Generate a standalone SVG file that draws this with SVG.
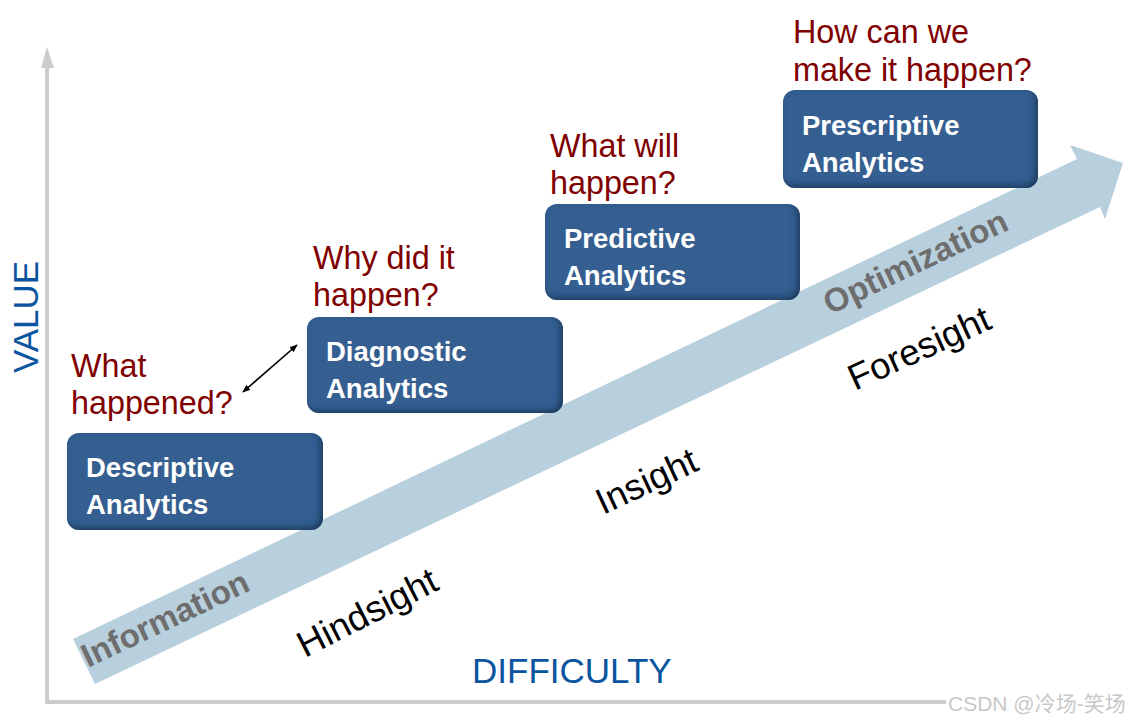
<svg xmlns="http://www.w3.org/2000/svg" width="1129" height="723" viewBox="0 0 1129 723">
  <defs>
    <style>
      .axis { stroke: #CCCCCC; stroke-width: 4; fill: none; }
      .box { fill: #365F91; }
      .boxtext { font-family: "Liberation Sans", Arial, sans-serif; font-weight: bold; font-size: 27.5px; fill: #FFFFFF; }
      .question { font-family: "Liberation Sans", Arial, sans-serif; font-size: 32.3px; fill: #800000; }
      .axislabel { font-family: "Liberation Sans", Arial, sans-serif; font-size: 35px; fill: #0B55A0; }
      .stage { font-family: "Liberation Sans", Arial, sans-serif; font-size: 36.5px; fill: #000000; }
      .band { font-family: "Liberation Sans", Arial, sans-serif; font-weight: bold; font-size: 33px; fill: #6E6E6E; }
      .conn { stroke: #000000; stroke-width: 1.6; fill: none; }
    </style>
    <filter id="bevel" x="-5%" y="-5%" width="115%" height="120%">
      <feGaussianBlur in="SourceAlpha" stdDeviation="3" result="blur"/>
      <feOffset in="blur" dx="-3" dy="-3" result="off"/>
      <feComposite in="SourceAlpha" in2="off" operator="out" result="inner"/>
      <feFlood flood-color="#142A48" flood-opacity="0.8"/>
      <feComposite in2="inner" operator="in" result="shade"/>
      <feMerge>
        <feMergeNode in="SourceGraphic"/>
        <feMergeNode in="shade"/>
      </feMerge>
    </filter>
    <marker id="ah" viewBox="0 0 10 10" refX="9" refY="5" markerWidth="8" markerHeight="8" orient="auto-start-reverse" markerUnits="userSpaceOnUse">
      <path d="M0,1 L10,5 L0,9 Z" fill="#000000"/>
    </marker>
  </defs>

  <rect width="1129" height="723" fill="#FFFFFF"/>

  <g id="axes">
    <line class="axis" x1="47" y1="66" x2="47" y2="702"/>
    <polygon points="47,47 41,68 54,68" fill="#CCCCCC"/>
    <line class="axis" x1="45" y1="702" x2="946" y2="702"/>
    <text class="axislabel" transform="translate(38,373) rotate(-90)">VALUE</text>
    <text class="axislabel" x="472" y="683">DIFFICULTY</text>
  </g>

  <g id="progress-arrow">
    <polygon points="73,639 1077,159 1070,145 1123,163 1105,219 1100,207 95,684" fill="#B8CFDD"/>
    <text class="band" transform="translate(88,668) rotate(-25.5)">Information</text>
    <text class="band" transform="translate(830,315) rotate(-25.5)">Optimization</text>
  </g>

  <g id="stage-labels">
    <text class="stage" transform="translate(305,658) rotate(-27)">Hindsight</text>
    <text class="stage" transform="translate(603,515) rotate(-25)">Insight</text>
    <text class="stage" transform="translate(855,391) rotate(-24.5)">Foresight</text>
  </g>

  <g id="descriptive">
    <rect class="box" x="67" y="433" width="256" height="97" rx="12" filter="url(#bevel)"/>
    <text class="boxtext" x="86" y="477">Descriptive</text>
    <text class="boxtext" x="86" y="514">Analytics</text>
    <text class="question" x="71" y="377">What</text>
    <text class="question" x="71" y="414">happened?</text>
  </g>

  <g id="diagnostic">
    <rect class="box" x="307" y="317" width="256" height="96" rx="12" filter="url(#bevel)"/>
    <text class="boxtext" x="326" y="361">Diagnostic</text>
    <text class="boxtext" x="326" y="398">Analytics</text>
    <text class="question" x="313" y="269">Why did it</text>
    <text class="question" x="313" y="306">happen?</text>
  </g>

  <g id="predictive">
    <rect class="box" x="545" y="204" width="255" height="96" rx="12" filter="url(#bevel)"/>
    <text class="boxtext" x="564" y="248">Predictive</text>
    <text class="boxtext" x="564" y="285">Analytics</text>
    <text class="question" x="550" y="157">What will</text>
    <text class="question" x="550" y="194">happen?</text>
  </g>

  <g id="prescriptive">
    <rect class="box" x="783" y="90" width="255" height="98" rx="12" filter="url(#bevel)"/>
    <text class="boxtext" x="802" y="135">Prescriptive</text>
    <text class="boxtext" x="802" y="172">Analytics</text>
    <text class="question" x="793" y="43">How can we</text>
    <text class="question" x="793" y="81">make it happen?</text>
  </g>

  <g id="connectors">
    <line class="conn" x1="243" y1="392" x2="297" y2="345" marker-start="url(#ah)" marker-end="url(#ah)"/>
  </g>

  <g id="watermark">
    <text x="948" y="711" font-family="'Liberation Sans', 'Noto Sans CJK SC', sans-serif" font-size="21" fill="#C8C8C8">CSDN @冷场-笑场</text>
  </g>
</svg>
